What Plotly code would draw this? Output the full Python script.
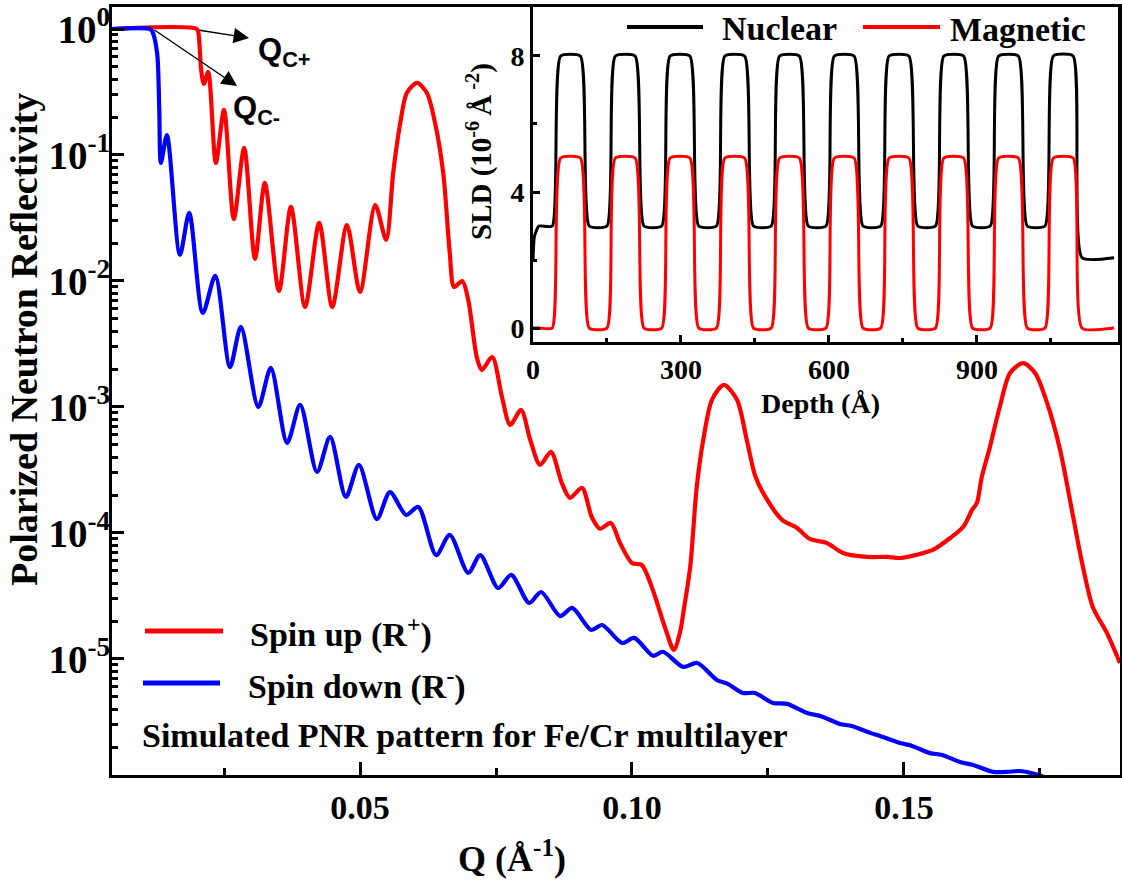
import plotly.graph_objects as go

# ---------------- data ----------------
# Spin down (R-)
q_down = [0.0044, 0.0114, 0.0118, 0.0127, 0.0131, 0.0134, 0.0145, 0.0169, 0.0186, 0.0211,
          0.0234, 0.0261, 0.0281, 0.0313, 0.0336, 0.0366, 0.0390, 0.0421, 0.0445, 0.0474,
          0.0498, 0.0531, 0.0555, 0.0585, 0.0607, 0.0640, 0.0665, 0.0699, 0.0721, 0.0754,
          0.0778, 0.0811, 0.0833, 0.0868, 0.0890, 0.0925, 0.0945, 0.0982, 0.1004, 0.1039,
          0.1057, 0.1094, 0.1120, 0.1156, 0.1176, 0.1204, 0.1226, 0.1259, 0.1285, 0.1322,
          0.1346, 0.1382, 0.1404, 0.1438, 0.1456, 0.1493, 0.1515, 0.1548, 0.1570, 0.1603,
          0.1627, 0.1664, 0.1689, 0.1713, 0.1735, 0.1756, 0.1789]
r_down = [1.0, 1.0, 0.96, 0.646, 0.228, 0.0865, 0.144, 0.0161, 0.0347, 5.57e-3,
          0.0110, 2.07e-3, 4.32e-3, 1.0e-3, 2.04e-3, 5.18e-4, 1.04e-3, 3.05e-4, 5.78e-4, 1.93e-4,
          3.47e-4, 1.29e-4, 2.11e-4, 1.39e-4, 1.61e-4, 6.68e-5, 9.64e-5, 4.82e-5, 6.68e-5, 3.66e-5,
          4.65e-5, 2.78e-5, 3.40e-5, 2.19e-5, 2.54e-5, 1.70e-5, 1.86e-5, 1.34e-5, 1.47e-5, 1.06e-5,
          1.14e-5, 8.65e-6, 9.29e-6, 6.81e-6, 6.34e-6, 5.37e-6, 5.37e-6, 4.48e-6, 4.40e-6, 3.72e-6,
          3.53e-6, 3.05e-6, 2.94e-6, 2.59e-6, 2.45e-6, 2.15e-6, 2.04e-6, 1.79e-6, 1.73e-6, 1.52e-6,
          1.44e-6, 1.27e-6, 1.27e-6, 1.29e-6, 1.24e-6, 1.16e-6, 9.1e-7]

# Spin up (R+)
q_up = [0.0044, 0.0200, 0.0203, 0.0208, 0.0213, 0.0221, 0.0235, 0.0250, 0.0268, 0.0287,
        0.0307, 0.0325, 0.0351, 0.0373, 0.0399, 0.0425, 0.0449, 0.0476, 0.0500, 0.0528,
        0.0548, 0.0561, 0.0574, 0.0586, 0.0605, 0.0623, 0.0638, 0.0653, 0.0665, 0.0673,
        0.0688, 0.0699, 0.0715, 0.0724, 0.0743, 0.0761, 0.0776, 0.0796, 0.0813, 0.0831,
        0.0851, 0.0871, 0.0886, 0.0908, 0.0926, 0.0941, 0.0961, 0.0978, 0.1000, 0.1018,
        0.1037, 0.1061, 0.1077, 0.1088, 0.1096, 0.1107, 0.1119, 0.1131, 0.1147, 0.1169,
        0.1193, 0.1211, 0.1226, 0.1241, 0.1276, 0.1303, 0.1327, 0.1358, 0.1388, 0.1432,
        0.1469, 0.1493, 0.1529, 0.1553, 0.1585, 0.1609, 0.1625, 0.1634, 0.1643, 0.1658,
        0.1676, 0.1695, 0.1719, 0.1741, 0.1763, 0.1787, 0.1811, 0.1829, 0.1847, 0.1873,
        0.1897]
r_up = [1.0, 1.0, 0.93, 0.473, 0.366, 0.456, 0.0865, 0.228, 0.0310, 0.1137,
        0.0150, 0.0600, 8.33e-3, 0.0387, 6.22e-3, 0.0289, 6.22e-3, 0.0278, 8.18e-3, 0.0401,
        0.0212, 0.0720, 0.1795, 0.310, 0.373, 0.310, 0.1795, 0.0720, 0.0167, 8.96e-3,
        0.0100, 7.07e-3, 2.45e-3, 1.97e-3, 2.49e-3, 1.20e-3, 7.2e-4, 9.47e-4, 5.47e-4, 3.47e-4,
        4.40e-4, 2.49e-4, 1.90e-4, 2.28e-4, 1.34e-4, 1.08e-4, 1.20e-4, 8.33e-5, 5.78e-5, 5.57e-5,
        3.66e-5, 1.76e-5, 1.18e-5, 1.61e-5, 2.59e-5, 5.37e-5, 2.32e-4, 5.47e-4, 1.14e-3, 1.50e-3,
        1.14e-3, 5.47e-4, 2.88e-4, 2.08e-4, 1.27e-4, 1.10e-4, 8.96e-5, 8.33e-5, 6.94e-5, 6.45e-5,
        6.45e-5, 6.33e-5, 6.81e-5, 7.33e-5, 9.12e-5, 1.12e-4, 1.52e-4, 1.73e-4, 2.78e-4, 4.82e-4,
        1.0e-3, 1.86e-3, 2.23e-3, 1.86e-3, 1.08e-3, 4.56e-4, 1.34e-4, 5.37e-5, 2.59e-5, 1.61e-5,
        9.29e-6]

# SLD depth profile (inset)
depth = [0, 3, 12, 39, 56, 96, 114, 150, 167, 207, 225, 261, 278, 318, 336, 372, 389, 429,
         447, 483, 500, 540, 558, 594, 611, 651, 669, 705, 722, 762, 780, 816, 833, 873,
         891, 927, 944, 984, 1002, 1038, 1055, 1095, 1113, 1178]
sld_nuclear = [2.0, 2.7, 3.0, 3.0, 8.0, 8.0, 3.0, 3.0, 8.0, 8.0, 3.0, 3.0, 8.0, 8.0, 3.0, 3.0,
               8.0, 8.0, 3.0, 3.0, 8.0, 8.0, 3.0, 3.0, 8.0, 8.0, 3.0, 3.0, 8.0, 8.0, 3.0, 3.0,
               8.0, 8.0, 3.0, 3.0, 8.0, 8.0, 3.0, 3.0, 8.0, 8.0, 2.07, 2.07]
sld_magnetic = [0.0, 0.0, 0.0, 0.0, 5.0, 5.0, 0.0, 0.0, 5.0, 5.0, 0.0, 0.0, 5.0, 5.0, 0.0, 0.0,
                5.0, 5.0, 0.0, 0.0, 5.0, 5.0, 0.0, 0.0, 5.0, 5.0, 0.0, 0.0, 5.0, 5.0, 0.0, 0.0,
                5.0, 5.0, 0.0, 0.0, 5.0, 5.0, 0.0, 0.0, 5.0, 5.0, 0.0, 0.0]

y_tickvals = [1, 1e-1, 1e-2, 1e-3, 1e-4, 1e-5]
y_ticktext = ["10<sup>0</sup>", "10<sup>-1</sup>", "10<sup>-2</sup>",
              "10<sup>-3</sup>", "10<sup>-4</sup>", "10<sup>-5</sup>"]
x_tickvals = [0.05, 0.10, 0.15]
x_ticktext = ["0.05", "0.10", "0.15"]
x_minor = [0.025, 0.075, 0.125, 0.175]
y_minor = [m * 10.0 ** k for k in range(-6, 0) for m in range(2, 10)]
inset_x_ticks = [0, 300, 600, 900]
inset_x_minor = [150, 450, 750, 1050]
inset_y_ticks = [0, 4, 8]
inset_y_minor = [2, 6]

# ---------------- styling ----------------
W, H = 1122, 883
PL, PR, PT, PB = 112, 1120, 7, 775   # plot-area pixel box
SERIF = "Liberation Serif"
SANS = "Liberation Sans"
RED = "#ff0000"
BLUE = "#0000ff"


def fx(px):
    return (px - PL) / (PR - PL)


def fy(py):
    return (PB - py) / (PB - PT)


fig = go.Figure()
fig.add_trace(go.Scatter(x=q_up, y=r_up, mode="lines", name="Spin up (R<sup>+</sup>)",
                         line=dict(color=RED, width=4.2, shape="spline", smoothing=0.8),
                         showlegend=False))
fig.add_trace(go.Scatter(x=q_down, y=r_down, mode="lines", name="Spin down (R<sup>-</sup>)",
                         line=dict(color=BLUE, width=4.2, shape="spline", smoothing=0.8),
                         showlegend=False))
fig.add_trace(go.Scatter(x=depth, y=sld_nuclear, mode="lines", name="Nuclear",
                         xaxis="x2", yaxis="y2",
                         line=dict(color="black", width=3, shape="spline", smoothing=0.5),
                         showlegend=False))
fig.add_trace(go.Scatter(x=depth, y=sld_magnetic, mode="lines", name="Magnetic",
                         xaxis="x2", yaxis="y2",
                         line=dict(color=RED, width=3, shape="spline", smoothing=0.5),
                         showlegend=False))

axis_common = dict(showline=True, linecolor="black", mirror=True, showgrid=False,
                   zeroline=False, ticks="inside", tickcolor="black", automargin=False)

fig.update_layout(
    width=W, height=H,
    margin=dict(l=PL, r=W - PR, t=PT, b=H - PB, pad=0),
    paper_bgcolor="white", plot_bgcolor="white",
    showlegend=False,
    xaxis=dict(**axis_common, range=[0.00441, 0.18971], linewidth=3,
               tickmode="array", tickvals=x_tickvals, ticktext=x_ticktext,
               ticklen=13, tickwidth=3, ticklabelstandoff=0,
               tickfont=dict(family=SERIF, size=34, color="black", weight="bold"),
               minor=dict(tickmode="array", tickvals=x_minor, ticks="inside",
                          ticklen=7, tickwidth=3, tickcolor="black")),
    yaxis=dict(**axis_common, type="log", range=[-5.921, 0.1746], linewidth=3,
               tickmode="array", tickvals=y_tickvals, ticktext=y_ticktext,
               ticklen=12, tickwidth=3, ticklabelstandoff=-9,
               tickfont=dict(family=SERIF, size=39, color="black", weight="bold"),
               minor=dict(tickmode="array", tickvals=y_minor, ticks="inside",
                          ticklen=6, tickwidth=3, tickcolor="black")),
    xaxis2=dict(**axis_common, domain=[fx(533), fx(1118)], anchor="y2",
                range=[0, 1186], linewidth=3,
                tickmode="array", tickvals=inset_x_ticks,
                ticklen=7, tickwidth=2.5, ticklabelstandoff=0,
                tickfont=dict(family=SERIF, size=28, color="black", weight="bold"),
                minor=dict(tickmode="array", tickvals=inset_x_minor, ticks="inside",
                           ticklen=4, tickwidth=2.5, tickcolor="black")),
    yaxis2=dict(**axis_common, domain=[fy(342), 1.0], anchor="x2",
                range=[-0.41, 9.44], linewidth=3,
                tickmode="array", tickvals=inset_y_ticks,
                ticklen=7, tickwidth=2.5, ticklabelstandoff=0,
                tickfont=dict(family=SERIF, size=28, color="black", weight="bold"),
                minor=dict(tickmode="array", tickvals=inset_y_minor, ticks="inside",
                           ticklen=4, tickwidth=2.5, tickcolor="black")),
)

annotations = []


def text(x, y, s, size, family=SERIF, xanchor="left", yanchor="middle", angle=0):
    annotations.append(dict(x=fx(x), y=fy(y), xref="paper", yref="paper", text=s,
                            showarrow=False, xanchor=xanchor, yanchor=yanchor,
                            textangle=angle,
                            font=dict(family=family, size=size, color="black",
                                      weight="bold")))


# axis titles
text(24, 340, "Polarized Neutron Reflectivity", 38, xanchor="center", angle=-90)
text(512, 856, "Q (Å<sup>-1</sup>)", 36, xanchor="center")
text(479, 152, "SLD (10<sup>-6 </sup>Å<sup> -2</sup>)", 29, xanchor="center", angle=-90)
text(820, 404, "Depth (Å)", 28, xanchor="center")

# main legend texts
text(248, 632, "Spin up (R<sup>+</sup>)", 34)
text(246, 684, "Spin down (R<sup>-</sup>)", 34)
text(140, 735, "Simulated PNR pattern for Fe/Cr multilayer", 34)

# inset legend texts
text(720, 28, "Nuclear", 34)
text(948, 30, "Magnetic", 34)

# critical-edge labels
text(256, 52, "Q<sub>C+</sub>", 31, family=SANS)
text(231, 110, "Q<sub>C-</sub>", 31, family=SANS)

# arrows (head at label side, tail at the critical edge)
for head, tail in [((249, 38), (198, 30)), ((237, 86), (153, 29))]:
    annotations.append(dict(x=fx(head[0]), y=fy(head[1]), xref="paper", yref="paper",
                            text="", showarrow=True, ax=tail[0] - head[0],
                            ay=tail[1] - head[1], axref="pixel", ayref="pixel",
                            arrowhead=2, arrowsize=2.2, arrowwidth=1.4,
                            arrowcolor="black", standoff=0, startstandoff=0))

fig.update_layout(annotations=annotations)

# legend line samples
shapes = []
for x0, x1, y, col, w in [(145, 223, 631, RED, 5), (143, 220, 683, BLUE, 5),
                          (627, 703, 27, "black", 4), (863, 940, 27, RED, 4)]:
    shapes.append(dict(type="line", xref="paper", yref="paper",
                       x0=fx(x0), x1=fx(x1), y0=fy(y), y1=fy(y),
                       line=dict(color=col, width=w)))
fig.update_layout(shapes=shapes)

fig.write_html("out.html",
               config={"displayModeBar": False},
               post_script="document.body.style.margin='0px';"
                           "document.body.style.overflow='hidden';")
